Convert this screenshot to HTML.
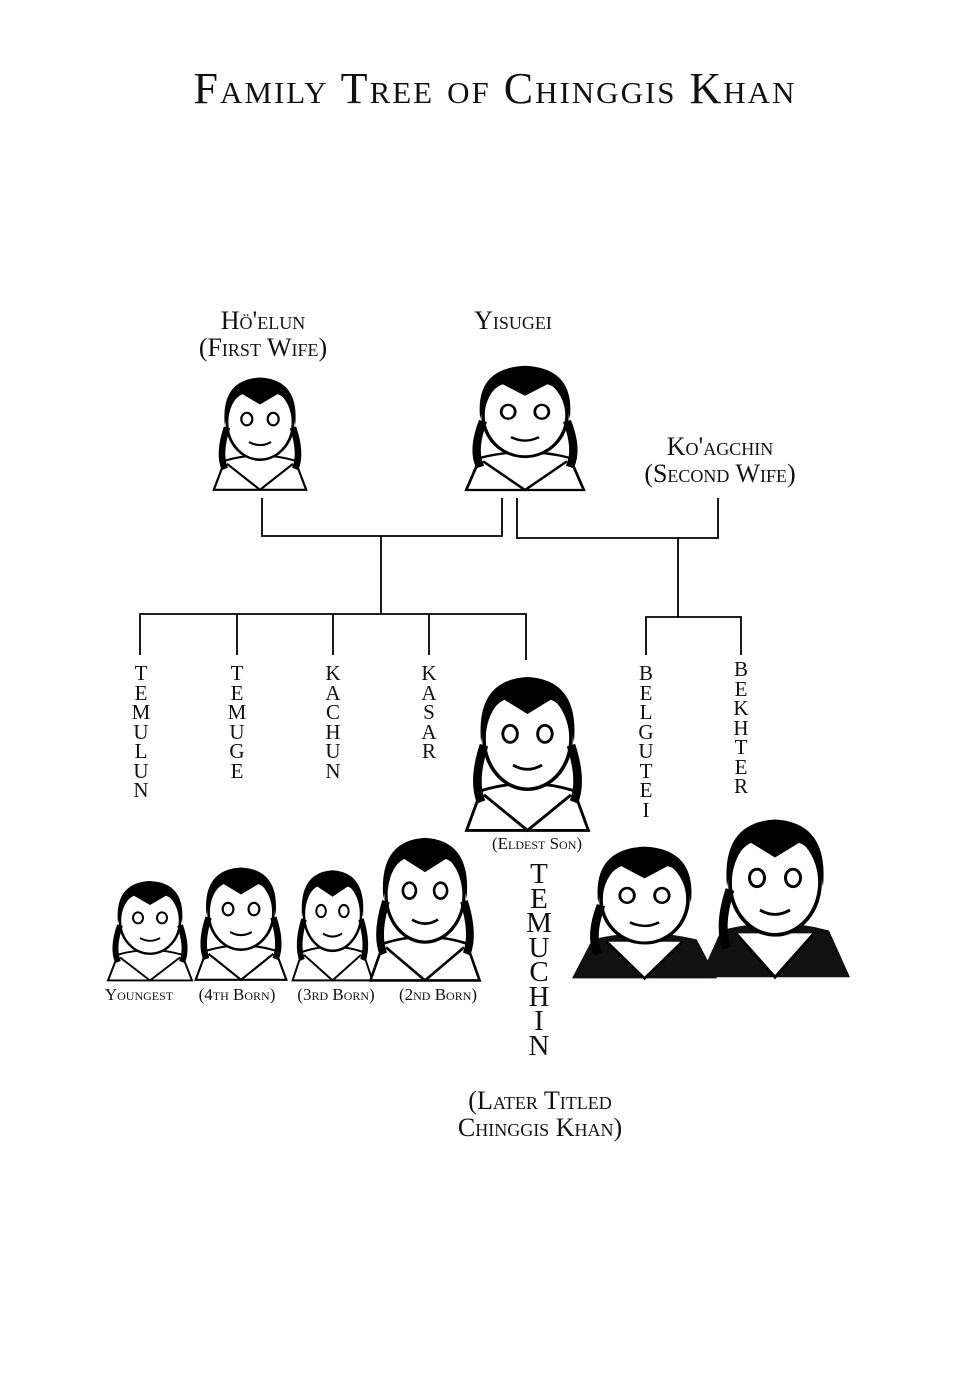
<!DOCTYPE html>
<html><head><meta charset="utf-8"><style>
html,body{margin:0;padding:0;background:#fff;}
body{width:964px;height:1400px;position:relative;overflow:hidden;font-family:"Liberation Serif",serif;color:#111;}
.t{position:absolute;font-variant:small-caps;white-space:nowrap;text-align:center;line-height:1.05;}
.v{position:absolute;font-variant:normal;text-align:center;font-size:21px;line-height:19.5px;width:24px;}
</style></head><body>
<svg width="964" height="1400" style="position:absolute;left:0;top:0">
<defs>
<g id="h">
 <path d="M8 120 L18 92 Q50 82 82 92 L92 120 Z" fill="#fff" stroke="#000" stroke-width="2"/>
 <path d="M20 95 L50 120 L80 95" fill="none" stroke="#000" stroke-width="2"/>
 <ellipse cx="50" cy="55" rx="30" ry="36" fill="#fff" stroke="#000" stroke-width="2.5"/>
 <path d="M18 58 Q14 14 50 12 Q86 14 82 58 Q78 32 66 28 L50 38 L34 28 Q22 34 18 58 Z" fill="#000"/>
 <path d="M20 60 Q12 85 18 100" stroke="#000" stroke-width="6" fill="none"/>
 <path d="M80 60 Q88 85 82 100" stroke="#000" stroke-width="6" fill="none"/>
 <ellipse cx="38" cy="52" rx="5" ry="6" fill="none" stroke="#000" stroke-width="2"/>
 <ellipse cx="62" cy="52" rx="5" ry="6" fill="none" stroke="#000" stroke-width="2"/>
 <path d="M40 74 Q50 80 60 74" stroke="#000" stroke-width="2" fill="none"/>
</g>
<g id="d">
 <path d="M0 120 L14 88 Q50 78 86 88 L100 120 Z" fill="#111"/>
 <path d="M24 90 L50 120 L76 90" fill="#fff" stroke="#000" stroke-width="2"/>
 <ellipse cx="50" cy="55" rx="30" ry="36" fill="#fff" stroke="#000" stroke-width="2.5"/>
 <path d="M18 58 Q14 14 50 12 Q86 14 82 58 Q78 32 66 28 L50 38 L34 28 Q22 34 18 58 Z" fill="#000"/>
 <path d="M20 60 Q12 85 18 100" stroke="#000" stroke-width="6" fill="none"/>
 <ellipse cx="38" cy="52" rx="5" ry="6" fill="none" stroke="#000" stroke-width="2"/>
 <ellipse cx="62" cy="52" rx="5" ry="6" fill="none" stroke="#000" stroke-width="2"/>
 <path d="M40 74 Q50 80 60 74" stroke="#000" stroke-width="2" fill="none"/>
</g>
</defs>
<g stroke="#000" stroke-width="1.8" fill="none">
 <path d="M262 498 V536 H502 V498"/>
 <path d="M517 498 V538 H718 V498"/>
 <path d="M381 536 V614"/>
 <path d="M140 655 V614 H526 V660"/>
 <path d="M237 614 V655 M333 614 V655 M429 614 V655"/>
 <path d="M678 538 V617 M646 655 V617 H741 V655"/>
</g>
<use href="#h" transform="translate(205,365) scale(1.1,1.04)"/>
<use href="#h" transform="translate(455,352) scale(1.4,1.15)"/>
<use href="#h" transform="translate(455,660) scale(1.45,1.42)"/>
<use href="#h" transform="translate(100,870) scale(1.0,0.92)"/>
<use href="#h" transform="translate(187,855) scale(1.08,1.04)"/>
<use href="#h" transform="translate(285,858) scale(0.95,1.02)"/>
<use href="#h" transform="translate(360,822) scale(1.3,1.32)"/>
<use href="#d" transform="translate(572,832) scale(1.45,1.22)"/>
<use href="#d" transform="translate(700,802) scale(1.5,1.46)"/>
</svg>
<div class="t" style="left:0;width:990px;top:66px;font-size:44px;letter-spacing:2px">Family Tree of Chinggis Khan</div>
<div class="t" style="left:163px;width:200px;top:307px;font-size:26px">Hö'elun<br>(First Wife)</div>
<div class="t" style="left:413px;width:200px;top:307px;font-size:26px">Yisugei</div>
<div class="t" style="left:610px;width:220px;top:433px;font-size:26px">Ko'agchin<br>(Second Wife)</div>
<div class="v" style="left:129px;top:664px">T<br>E<br>M<br>U<br>L<br>U<br>N</div>
<div class="v" style="left:225px;top:664px">T<br>E<br>M<br>U<br>G<br>E</div>
<div class="v" style="left:321px;top:664px">K<br>A<br>C<br>H<br>U<br>N</div>
<div class="v" style="left:417px;top:664px">K<br>A<br>S<br>A<br>R</div>
<div class="v" style="left:634px;top:664px">B<br>E<br>L<br>G<br>U<br>T<br>E<br>I</div>
<div class="v" style="left:729px;top:660px">B<br>E<br>K<br>H<br>T<br>E<br>R</div>
<div class="t" style="left:457px;width:160px;top:835px;font-size:17px">(Eldest Son)</div>
<div class="v" style="left:522px;top:862px;font-size:29px;line-height:24.5px;width:34px">T<br>E<br>M<br>U<br>C<br>H<br>I<br>N</div>
<div class="t" style="left:89px;width:100px;top:986px;font-size:17px">Youngest</div>
<div class="t" style="left:182px;width:110px;top:986px;font-size:17px">(4th Born)</div>
<div class="t" style="left:281px;width:110px;top:986px;font-size:17px">(3rd Born)</div>
<div class="t" style="left:383px;width:110px;top:986px;font-size:17px">(2nd Born)</div>
<div class="t" style="left:415px;width:250px;top:1087px;font-size:26px">(Later Titled<br>Chinggis Khan)</div>
</body></html>
